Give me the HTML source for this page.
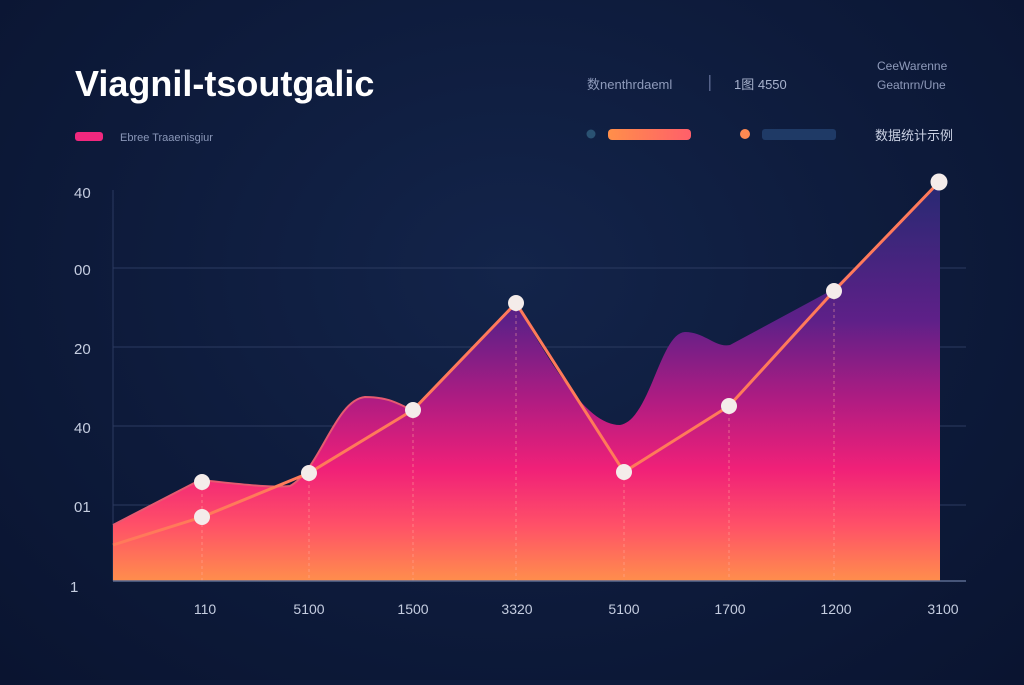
<!DOCTYPE html><html><head><meta charset="utf-8"><style>
body{margin:0;width:1024px;height:680px;overflow:hidden;background:radial-gradient(ellipse at 50% 40%,#13244a 0%,#0d1a3a 60%,#0a1430 100%);font-family:"Liberation Sans","Noto Sans CJK SC",sans-serif}
</style></head><body>
<svg width="1024" height="680" viewBox="0 0 1024 680" xmlns="http://www.w3.org/2000/svg">
<defs>
<linearGradient id="ag" gradientUnits="userSpaceOnUse" x1="0" y1="180" x2="0" y2="581">
<stop offset="0" stop-color="#262a72"/><stop offset="0.35" stop-color="#5e2088"/><stop offset="0.55" stop-color="#b01c82"/><stop offset="0.72" stop-color="#f02078"/><stop offset="0.86" stop-color="#ff5068"/><stop offset="1" stop-color="#ff8e4c"/></linearGradient>
<linearGradient id="lg" x1="0" x2="1"><stop offset="0" stop-color="#ff8f4a"/><stop offset="1" stop-color="#ff5f6a"/></linearGradient>
</defs>
<text x="75" y="96" font-size="36" fill="#fff" font-weight="bold">Viagnil-tsoutgalic</text>
<rect x="75" y="132" width="28" height="9" rx="3" fill="#f0287e"/>
<text x="120" y="141" font-size="11" fill="#8a97b8">Ebree Traaenisgiur</text>
<text x="587" y="89" font-size="13" fill="#8f9bbb">数nenthrdaeml</text>
<rect x="709" y="75" width="1.5" height="16" fill="#55628a"/>
<text x="734" y="89" font-size="13" fill="#a7b2cc">1图 4550</text>
<text x="877" y="70" font-size="12" fill="#8f9bbb">CeeWarenne</text>
<text x="877" y="89" font-size="12" fill="#8f9bbb">Geatnrn/Une</text>
<circle cx="591" cy="134" r="4.5" fill="#2a5272"/>
<rect x="608" y="129" width="83" height="11" rx="4" fill="url(#lg)"/>
<circle cx="745" cy="134" r="5" fill="#ff8a52"/>
<rect x="762" y="129" width="74" height="11" rx="3" fill="#1f3a66"/>
<text x="875" y="140" font-size="13" fill="#c9d0e2">数据统计示例</text>
<g stroke="#2b3a60" stroke-width="1">
<line x1="113" y1="268" x2="966" y2="268"/><line x1="113" y1="347" x2="966" y2="347"/><line x1="113" y1="426" x2="966" y2="426"/><line x1="113" y1="505" x2="966" y2="505"/><line x1="113" y1="190" x2="113" y2="581"/></g>
<g font-size="15" fill="#c5cde0"><text x="74" y="198">40</text><text x="74" y="275">00</text><text x="74" y="354">20</text><text x="74" y="433">40</text><text x="74" y="512">01</text><text x="70" y="592">1</text></g>
<path d="M113,525 L200,480 C240,484 270,488 290,486 C320,470 335,400 365,397 C390,397 400,405 412,410 L515,302 C560,380 590,425 620,425 C650,420 660,333 685,332 C705,332 715,348 730,345 L832,290 L940,182 L940,581 L113,581 Z" fill="url(#ag)"/>
<path d="M113,525 L200,480 C240,484 270,488 290,486 C320,470 335,400 365,397 C390,397 400,405 412,410" fill="none" stroke="#e65a70" stroke-width="2"/>
<g stroke="#ffb0a0" stroke-opacity="0.5" stroke-dasharray="3,3"><line x1="202" y1="482" x2="202" y2="581"/><line x1="309" y1="473" x2="309" y2="581"/><line x1="413" y1="410" x2="413" y2="581"/><line x1="516" y1="303" x2="516" y2="581"/><line x1="624" y1="472" x2="624" y2="581"/><line x1="729" y1="406" x2="729" y2="581"/><line x1="834" y1="291" x2="834" y2="581"/></g>
<polyline points="113,545 202,517 309,473 413,410 516,303 624,472 729,406 834,291 939,182" fill="none" stroke="#ff7a5a" stroke-width="3"/>
<line x1="113" y1="581" x2="966" y2="581" stroke="#5a6a90" stroke-width="1.5"/>
<g fill="#f4ecea"><circle cx="202" cy="482" r="8"/><circle cx="202" cy="517" r="8"/><circle cx="309" cy="473" r="8"/><circle cx="413" cy="410" r="8"/><circle cx="516" cy="303" r="8"/><circle cx="624" cy="472" r="8"/><circle cx="729" cy="406" r="8"/><circle cx="834" cy="291" r="8"/><circle cx="939" cy="182" r="8.5"/></g>
<g font-size="14" fill="#c5cde0" text-anchor="middle"><text x="205" y="614">110</text><text x="309" y="614">5100</text><text x="413" y="614">1500</text><text x="517" y="614">3320</text><text x="624" y="614">5100</text><text x="730" y="614">1700</text><text x="836" y="614">1200</text><text x="943" y="614">3100</text></g>
</svg></body></html>
